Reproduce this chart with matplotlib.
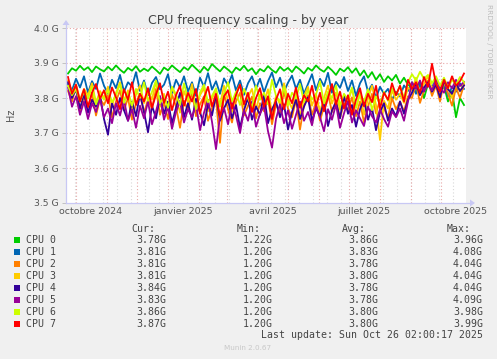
import datetime as dt
import matplotlib
matplotlib.use("Agg")
import matplotlib.pyplot as plt
from matplotlib.patches import Rectangle

# Munin yearly graph: 400 days ending at last update, one sample every 4 days
end_time = dt.datetime(2025, 10, 26, 2, 0, 17)
start_time = end_time - dt.timedelta(days=400)
step_days = 4

cpu_names = ["CPU 0", "CPU 1", "CPU 2", "CPU 3", "CPU 4", "CPU 5", "CPU 6", "CPU 7"]
cpu_colors = ["#00CC00", "#0066B3", "#FF8000", "#FFCC00",
              "#330099", "#990099", "#CCFF00", "#FF0000"]

# frequencies in GHz
cpu0 = [3.870, 3.885, 3.878, 3.892, 3.880, 3.888, 3.874, 3.890, 3.882, 3.876,
        3.889, 3.879, 3.893, 3.881, 3.872, 3.886, 3.878, 3.891, 3.875, 3.884,
        3.877, 3.890, 3.880, 3.869, 3.887, 3.879, 3.893, 3.883, 3.874, 3.888,
        3.880, 3.895, 3.884, 3.873, 3.889, 3.878, 3.897, 3.886, 3.876, 3.890,
        3.881, 3.871, 3.887, 3.879, 3.892, 3.877, 3.885, 3.868, 3.883, 3.876,
        3.891, 3.880, 3.872, 3.889, 3.878, 3.886, 3.874, 3.890, 3.881, 3.870,
        3.886, 3.878, 3.893, 3.882, 3.875, 3.889, 3.879, 3.866, 3.884, 3.876,
        3.888, 3.872, 3.885, 3.864, 3.879, 3.858, 3.874, 3.852, 3.868, 3.846,
        3.862, 3.850, 3.866, 3.841, 3.858, 3.838, 3.830, 3.815, 3.845, 3.800,
        3.840, 3.820, 3.850, 3.810, 3.835, 3.790, 3.820, 3.745, 3.800, 3.780]
cpu1 = [3.840, 3.822, 3.855, 3.830, 3.862, 3.815, 3.848, 3.826, 3.870, 3.835,
        3.812, 3.852, 3.828, 3.866, 3.818, 3.845, 3.833, 3.874, 3.820, 3.850,
        3.808, 3.843, 3.860, 3.825, 3.838, 3.868, 3.814, 3.852, 3.830, 3.862,
        3.819, 3.845, 3.806, 3.858, 3.832, 3.871, 3.824, 3.848, 3.812, 3.856,
        3.836, 3.866, 3.821, 3.850, 3.809, 3.842, 3.862, 3.827, 3.855, 3.816,
        3.848, 3.873, 3.831, 3.858, 3.818, 3.844, 3.864, 3.826, 3.852, 3.812,
        3.840, 3.868, 3.822, 3.855, 3.834, 3.872, 3.815, 3.846, 3.829, 3.860,
        3.820, 3.850, 3.806, 3.842, 3.862, 3.818, 3.838, 3.800, 3.832, 3.812,
        3.826, 3.795, 3.818, 3.804, 3.836, 3.820, 3.845, 3.812, 3.838, 3.822,
        3.848, 3.830, 3.856, 3.815, 3.840, 3.805, 3.832, 3.818, 3.842, 3.826]
cpu2 = [3.820, 3.790, 3.835, 3.760, 3.805, 3.772, 3.815, 3.750, 3.798, 3.780,
        3.808, 3.745, 3.790, 3.822, 3.765, 3.800, 3.738, 3.785, 3.812, 3.758,
        3.795, 3.770, 3.826, 3.752, 3.788, 3.740, 3.810, 3.776, 3.715, 3.792,
        3.764, 3.818, 3.748, 3.782, 3.805, 3.735, 3.772, 3.796, 3.672, 3.812,
        3.768, 3.730, 3.790, 3.815, 3.750, 3.778, 3.804, 3.742, 3.785, 3.762,
        3.800, 3.725, 3.782, 3.758, 3.818, 3.770, 3.745, 3.795, 3.710, 3.780,
        3.808, 3.752, 3.788, 3.735, 3.776, 3.812, 3.760, 3.794, 3.742, 3.785,
        3.765, 3.802, 3.748, 3.790, 3.730, 3.775, 3.812, 3.756, 3.795, 3.770,
        3.745, 3.800, 3.768, 3.790, 3.762, 3.805, 3.800, 3.842, 3.786, 3.822,
        3.850, 3.806, 3.835, 3.790, 3.846, 3.812, 3.778, 3.830, 3.800, 3.838]
cpu3 = [3.850, 3.815, 3.838, 3.795, 3.826, 3.808, 3.842, 3.786, 3.820, 3.800,
        3.832, 3.778, 3.815, 3.845, 3.792, 3.822, 3.770, 3.810, 3.836, 3.785,
        3.818, 3.796, 3.848, 3.775, 3.812, 3.765, 3.830, 3.802, 3.758, 3.820,
        3.788, 3.840, 3.772, 3.808, 3.828, 3.762, 3.798, 3.822, 3.780, 3.835,
        3.792, 3.760, 3.815, 3.838, 3.776, 3.804, 3.826, 3.768, 3.810, 3.786,
        3.825, 3.755, 3.806, 3.782, 3.842, 3.795, 3.770, 3.818, 3.745, 3.805,
        3.832, 3.778, 3.812, 3.760, 3.800, 3.836, 3.784, 3.816, 3.766, 3.808,
        3.790, 3.826, 3.772, 3.815, 3.752, 3.798, 3.835, 3.780, 3.680, 3.792,
        3.770, 3.822, 3.795, 3.812, 3.786, 3.830, 3.820, 3.858, 3.812, 3.840,
        3.862, 3.826, 3.848, 3.808, 3.855, 3.830, 3.800, 3.845, 3.818, 3.842]
cpu4 = [3.845, 3.800, 3.825, 3.770, 3.812, 3.758, 3.795, 3.775, 3.808, 3.740,
        3.695, 3.785, 3.752, 3.800, 3.765, 3.735, 3.790, 3.748, 3.812, 3.760,
        3.702, 3.778, 3.742, 3.805, 3.755, 3.790, 3.728, 3.772, 3.815, 3.745,
        3.785, 3.738, 3.798, 3.760, 3.722, 3.782, 3.750, 3.808, 3.735, 3.770,
        3.795, 3.742, 3.780, 3.715, 3.765, 3.800, 3.738, 3.776, 3.752, 3.810,
        3.728, 3.768, 3.790, 3.745, 3.782, 3.710, 3.760, 3.796, 3.740, 3.775,
        3.802, 3.735, 3.770, 3.748, 3.792, 3.720, 3.765, 3.788, 3.742, 3.806,
        3.755, 3.780, 3.718, 3.768, 3.795, 3.738, 3.772, 3.708, 3.760, 3.785,
        3.735, 3.770, 3.748, 3.790, 3.755, 3.795, 3.815, 3.842, 3.808, 3.830,
        3.845, 3.818, 3.838, 3.802, 3.850, 3.825, 3.812, 3.842, 3.820, 3.836]
cpu5 = [3.830, 3.775, 3.805, 3.752, 3.790, 3.740, 3.785, 3.760, 3.798, 3.745,
        3.770, 3.728, 3.785, 3.750, 3.795, 3.735, 3.768, 3.715, 3.778, 3.742,
        3.790, 3.725, 3.762, 3.805, 3.738, 3.775, 3.712, 3.760, 3.792, 3.730,
        3.768, 3.745, 3.782, 3.708, 3.758, 3.795, 3.732, 3.654, 3.748, 3.772,
        3.725, 3.786, 3.750, 3.700, 3.765, 3.735, 3.790, 3.718, 3.755, 3.778,
        3.705, 3.658, 3.740, 3.782, 3.728, 3.765, 3.712, 3.752, 3.790, 3.735,
        3.760, 3.722, 3.778, 3.745, 3.705, 3.768, 3.738, 3.782, 3.715, 3.756,
        3.792, 3.730, 3.765, 3.742, 3.720, 3.775, 3.748, 3.730, 3.768, 3.740,
        3.718, 3.762, 3.745, 3.770, 3.735, 3.790, 3.845, 3.826, 3.850, 3.818,
        3.840, 3.822, 3.852, 3.830, 3.815, 3.845, 3.828, 3.852, 3.834, 3.846]
cpu6 = [3.835, 3.808, 3.825, 3.790, 3.818, 3.798, 3.832, 3.782, 3.812, 3.795,
        3.822, 3.788, 3.808, 3.840, 3.786, 3.815, 3.778, 3.826, 3.800, 3.845,
        3.792, 3.818, 3.850, 3.785, 3.805, 3.772, 3.832, 3.810, 3.780, 3.842,
        3.796, 3.822, 3.768, 3.815, 3.838, 3.788, 3.806, 3.828, 3.775, 3.812,
        3.845, 3.790, 3.818, 3.780, 3.826, 3.800, 3.772, 3.835, 3.795, 3.815,
        3.782, 3.852, 3.806, 3.790, 3.832, 3.778, 3.815, 3.798, 3.840, 3.788,
        3.822, 3.796, 3.810, 3.848, 3.784, 3.818, 3.800, 3.836, 3.778, 3.812,
        3.795, 3.830, 3.772, 3.812, 3.790, 3.825, 3.765, 3.805, 3.782, 3.818,
        3.792, 3.828, 3.808, 3.835, 3.800, 3.845, 3.868, 3.850, 3.875, 3.855,
        3.866, 3.842, 3.862, 3.835, 3.858, 3.828, 3.852, 3.838, 3.860, 3.845]
cpu7 = [3.860, 3.812, 3.838, 3.790, 3.825, 3.775, 3.815, 3.840, 3.798, 3.822,
        3.785, 3.830, 3.802, 3.768, 3.825, 3.795, 3.845, 3.780, 3.812, 3.790,
        3.828, 3.772, 3.810, 3.842, 3.786, 3.818, 3.765, 3.808, 3.835, 3.778,
        3.815, 3.790, 3.826, 3.755, 3.800, 3.832, 3.776, 3.812, 3.745, 3.805,
        3.822, 3.770, 3.808, 3.838, 3.782, 3.815, 3.760, 3.800, 3.828, 3.775,
        3.805, 3.740, 3.795, 3.825, 3.768, 3.812, 3.785, 3.830, 3.772, 3.808,
        3.790, 3.835, 3.778, 3.815, 3.762, 3.800, 3.840, 3.782, 3.818, 3.770,
        3.808, 3.752, 3.795, 3.828, 3.776, 3.812, 3.788, 3.835, 3.770, 3.815,
        3.795, 3.842, 3.808, 3.835, 3.790, 3.852, 3.826, 3.845, 3.815, 3.860,
        3.832, 3.898, 3.840, 3.818, 3.852, 3.828, 3.862, 3.835, 3.848, 3.870]
series = [cpu0, cpu1, cpu2, cpu3, cpu4, cpu5, cpu6, cpu7]

# legend statistics as printed by munin
cur_vals = ["3.78G", "3.81G", "3.81G", "3.81G", "3.84G", "3.83G", "3.86G", "3.87G"]
min_vals = ["1.22G", "1.20G", "1.20G", "1.20G", "1.20G", "1.20G", "1.20G", "1.20G"]
avg_vals = ["3.86G", "3.83G", "3.78G", "3.80G", "3.78G", "3.78G", "3.80G", "3.80G"]
max_vals = ["3.96G", "4.08G", "4.04G", "4.04G", "4.04G", "4.09G", "3.98G", "3.99G"]

y_ticks = [3.5, 3.6, 3.7, 3.8, 3.9, 4.0]
label_months = [(2024, 10, "octobre 2024"), (2025, 1, "janvier 2025"),
                (2025, 4, "avril 2025"), (2025, 7, "juillet 2025"),
                (2025, 10, "octobre 2025")]

W, H = 497, 359
fig = plt.figure(figsize=(W / 100, H / 100), dpi=100, facecolor="#F0F0F0")
left, right, top, bottom = 66, 466, 28, 203
ax = fig.add_axes([left / W, 1 - bottom / H, (right - left) / W, (bottom - top) / H])
ax.set_facecolor("white")

def px(x, y):
    # pixel position (from top-left) -> figure fraction
    return x / W, 1 - y / H

# grid: biweekly minor, monthly major
minor_day = dt.datetime(2024, 9, 30)
while minor_day < end_time:
    ax.axvline(minor_day, color="#D8D8D8", lw=0.8, ls=(0, (1, 2)), zorder=1)
    minor_day += dt.timedelta(days=14)
for yr, mo in [(2024, m) for m in range(10, 13)] + [(2025, m) for m in range(1, 11)]:
    ax.axvline(dt.datetime(yr, mo, 1), color="#E8A8A8", lw=0.8, ls=(0, (1, 2)), zorder=1)
for yv in y_ticks[1:]:
    ax.axhline(yv, color="#E8A8A8", lw=0.8, ls=(0, (1, 2)), zorder=1)

dates = [start_time + dt.timedelta(days=step_days * i + 2) for i in range(len(cpu0))]
for vals, col in zip(series, cpu_colors):
    ax.plot(dates, vals, color=col, lw=1.3, zorder=3)

ax.set_xlim(start_time, end_time)
ax.set_ylim(3.5, 4.0)

for s in ax.spines.values():
    s.set_visible(False)

ax.set_yticks(y_ticks)
ax.set_yticklabels([f"{v:.1f} G" for v in y_ticks])
ax.tick_params(axis="y", length=3, width=0.6, color="#BBBBBB", labelsize=6.7,
               labelcolor="#555555", pad=2)
ax.set_xticks([dt.datetime(y, m, 16) for y, m, _ in label_months])
ax.set_xticklabels([t for _, _, t in label_months])
ax.tick_params(axis="x", length=0, labelsize=6.8, labelcolor="#555555", pad=3)

# axis lines with arrow heads
axis_col = "#C8C8F4"
fig.add_artist(plt.Line2D([px(66, 0)[0], px(471, 0)[0]], [px(0, 203)[1]] * 2,
                          color=axis_col, lw=0.9))
fig.add_artist(plt.Line2D([px(66, 0)[0]] * 2, [px(0, 203)[1], px(0, 24)[1]],
                          color=axis_col, lw=0.9))
fig.add_artist(plt.Polygon([px(470, 199.5), px(470, 206.5), px(475, 203)],
                           closed=True, color=axis_col, lw=0))
fig.add_artist(plt.Polygon([px(62.5, 25), px(69.5, 25), px(66, 20)],
                           closed=True, color=axis_col, lw=0))

fig.text(*px(248.5, 24), "CPU frequency scaling - by year", ha="center", va="baseline",
         fontsize=9, color="#444444")
fig.text(*px(11, 115), "Hz", rotation=90, ha="center", va="center",
         fontsize=7, color="#555555")
fig.text(*px(489, 4), "RRDTOOL / TOBI OETIKER", rotation=270, ha="center", va="top",
         fontsize=5.3, color="#BDBDBD")

mono = {"family": "DejaVu Sans Mono", "fontsize": 7.1, "color": "#444444"}
for hx, ht in zip([131, 237, 342, 447], ["Cur:", "Min:", "Avg:", "Max:"]):
    fig.text(*px(hx, 228.5), ht, ha="left", va="center", **mono)
for i, name in enumerate(cpu_names):
    ry = 239.7 + 12 * i
    fig.add_artist(Rectangle(px(14, ry + 3), 6 / W, 6 / H, color=cpu_colors[i], lw=0))
    fig.text(*px(26, ry), name, ha="left", va="center", **mono)
    for cx, vals in zip([166.7, 272.7, 378, 483], [cur_vals, min_vals, avg_vals, max_vals]):
        fig.text(*px(cx, ry), vals[i], ha="right", va="center", **mono)
fig.text(*px(483, 335), "Last update: Sun Oct 26 02:00:17 2025", ha="right", va="center", **mono)
fig.text(*px(248, 348.3), "Munin 2.0.67", ha="center", va="center", fontsize=5.2, color="#C8C8C8")

fig.savefig("out.png", dpi=100, facecolor=fig.get_facecolor())
